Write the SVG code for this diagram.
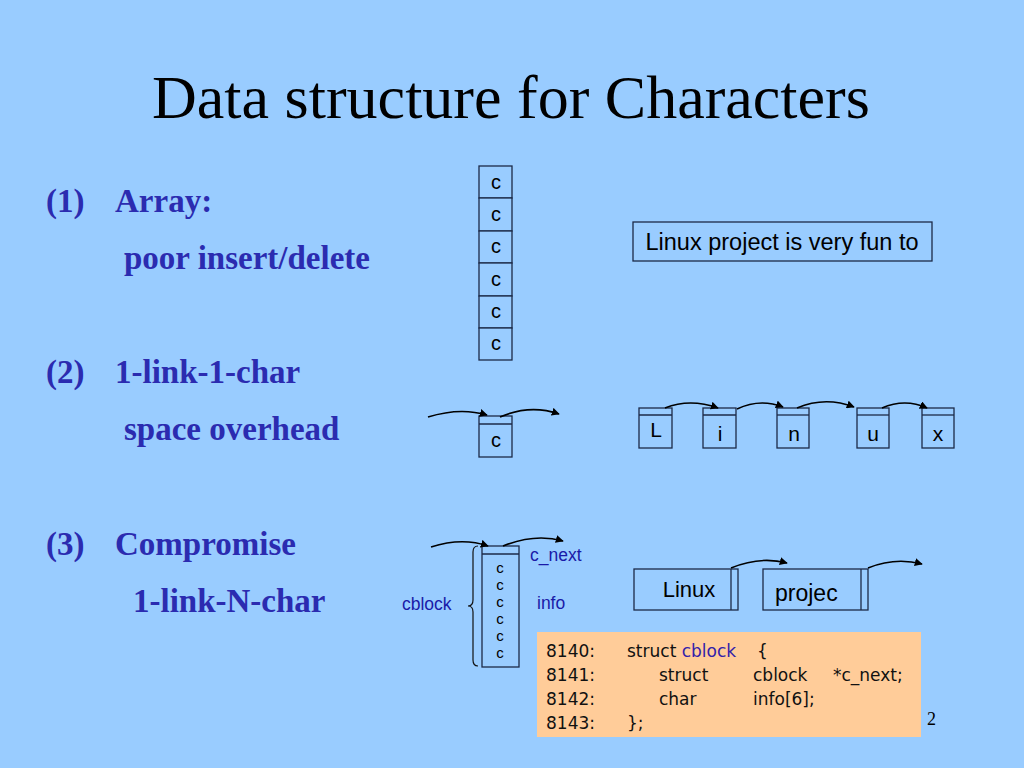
<svg xmlns="http://www.w3.org/2000/svg" width="1024" height="768" viewBox="0 0 1024 768">
<style>
.bg{fill:#99ccff}
.box{fill:#99ccff;stroke:#1c2a48;stroke-width:1.3}
.ln{stroke:#1c2a48;stroke-width:1.3}
.t{font-family:"Liberation Serif",serif}
.h{font-family:"Liberation Serif",serif;font-weight:bold;font-size:33px;fill:#2b2bb0}
.s{font-family:"Liberation Sans",Arial,sans-serif;fill:#000}
.lb{font-family:"Liberation Sans",Arial,sans-serif;font-size:17.5px;fill:#1a1aa8}
.code{font-family:"DejaVu Sans",sans-serif;font-size:17px;fill:#111}
.arr{fill:none;stroke:#000;stroke-width:1.6;marker-end:url(#ah)}
</style>
<defs>
<marker id="ah" viewBox="0 0 10 10" refX="9" refY="5" markerWidth="8" markerHeight="8" orient="auto" markerUnits="userSpaceOnUse">
<path d="M0,0 L10,5 L0,10 z" fill="#000"/>
</marker>
</defs>
<rect class="bg" x="0" y="0" width="1024" height="768"/>
<text class="t" x="511" y="118" font-size="62" text-anchor="middle">Data structure for Characters</text>

<g id="labels">
<text class="h" x="46" y="212">(1)</text>
<text class="h" x="115" y="212">Array:</text>
<text class="h" x="124" y="269">poor insert/delete</text>
<text class="h" x="46" y="383">(2)</text>
<text class="h" x="115" y="383">1-link-1-char</text>
<text class="h" x="124" y="440">space overhead</text>
<text class="h" x="46" y="555">(3)</text>
<text class="h" x="115" y="555">Compromise</text>
<text class="h" x="133" y="612">1-link-N-char</text>
</g>

<g id="array">
<rect class="box" x="479" y="166" width="33" height="32"/>
<rect class="box" x="479" y="198" width="33" height="33"/>
<rect class="box" x="479" y="231" width="33" height="32"/>
<rect class="box" x="479" y="263" width="33" height="33"/>
<rect class="box" x="479" y="296" width="33" height="32"/>
<rect class="box" x="479" y="328" width="33" height="32"/>
<g class="s" font-size="20" text-anchor="middle">
<text x="496" y="189">c</text>
<text x="496" y="221">c</text>
<text x="496" y="253">c</text>
<text x="496" y="286">c</text>
<text x="496" y="318">c</text>
<text x="496" y="350">c</text>
</g>
</g>

<g id="string-box">
<rect class="box" x="633" y="222" width="299" height="39"/>
<text class="s" x="782" y="250" font-size="23.5" text-anchor="middle">Linux project is very fun to</text>
</g>

<g id="node-c">
<rect class="box" x="479" y="416" width="33" height="41"/>
<line class="ln" x1="479" y1="424" x2="512" y2="424"/>
<text class="s" x="496" y="447" font-size="20" text-anchor="middle">c</text>
</g>

<g id="chain">
<g id="nL"><rect class="box" x="639" y="408" width="33" height="40"/><line class="ln" x1="639" y1="415" x2="672" y2="415"/><text class="s" x="656" y="437" font-size="21" text-anchor="middle">L</text></g>
<g id="ni"><rect class="box" x="703" y="408" width="33" height="40"/><line class="ln" x1="703" y1="415" x2="736" y2="415"/><text class="s" x="720" y="441" font-size="21" text-anchor="middle">i</text></g>
<g id="nn"><rect class="box" x="777" y="408" width="32" height="40"/><line class="ln" x1="777" y1="415" x2="809" y2="415"/><text class="s" x="794" y="441" font-size="21" text-anchor="middle">n</text></g>
<g id="nu"><rect class="box" x="857" y="408" width="32" height="40"/><line class="ln" x1="857" y1="415" x2="889" y2="415"/><text class="s" x="873" y="441" font-size="21" text-anchor="middle">u</text></g>
<g id="nx"><rect class="box" x="922" y="408" width="32" height="40"/><line class="ln" x1="922" y1="415" x2="954" y2="415"/><text class="s" x="938" y="441" font-size="21" text-anchor="middle">x</text></g>
</g>

<g id="cblock">
<rect class="box" x="482" y="546" width="37" height="121"/>
<line class="ln" x1="482" y1="554" x2="519" y2="554"/>
<g class="s" font-size="15" text-anchor="middle">
<text x="500" y="573">c</text>
<text x="500" y="590">c</text>
<text x="500" y="607">c</text>
<text x="500" y="624">c</text>
<text x="500" y="641">c</text>
<text x="500" y="658">c</text>
</g>
<path d="M478,546 Q473,546 473,552 L473,600 Q473,606 468,606 Q473,606 473,612 L473,660 Q473,666 478,666" fill="none" stroke="#111" stroke-width="1.2"/>
<text class="lb" x="402" y="610">cblock</text>
<text class="lb" x="530" y="561">c_next</text>
<text class="lb" x="537" y="609">info</text>
</g>

<g id="blocks">
<g id="bLinux"><rect class="box" x="634" y="569" width="104" height="41"/><line class="ln" x1="731" y1="569" x2="731" y2="610"/><text class="s" x="689" y="597" font-size="22" text-anchor="middle">Linux</text></g>
<g id="bprojec"><rect class="box" x="763" y="569" width="105" height="41"/><line class="ln" x1="861" y1="569" x2="861" y2="610"/><text class="s" x="775" y="601" font-size="23">projec</text></g>
</g>

<g id="connectors">
<path class="arr" d="M428,417 Q460,407 487,415"/>
<path class="arr" d="M500,417 Q530,404 559,414"/>
<path class="arr" d="M665,408 Q690,398 718,408"/>
<path class="arr" d="M737,409 Q760,398 783,407"/>
<path class="arr" d="M797,408 Q825,396 854,407"/>
<path class="arr" d="M882,408 Q905,398 927,408"/>
<path class="arr" d="M431,547 Q462,537 488,546"/>
<path class="arr" d="M503,546 Q535,533 563,541"/>
<path class="arr" d="M731,568 Q760,556 787,563"/>
<path class="arr" d="M868,568 Q895,557 922,564"/>
</g>

<g id="code">
<rect x="537" y="632" width="384" height="105" fill="#ffcc99"/>
<g class="code">
<text x="546" y="657">8140:</text>
<text x="627" y="657">struct <tspan fill="#3322aa">cblock</tspan></text>
<text x="757" y="657">{</text>
<text x="546" y="681">8141:</text>
<text x="659" y="681">struct</text>
<text x="753" y="681">cblock</text>
<text x="833" y="681">*c_next;</text>
<text x="546" y="705">8142:</text>
<text x="659" y="705">char</text>
<text x="753" y="705">info[6];</text>
<text x="546" y="729">8143:</text>
<text x="627" y="729">};</text>
</g>
</g>
<text class="t" x="927" y="725" font-size="18">2</text>
</svg>
